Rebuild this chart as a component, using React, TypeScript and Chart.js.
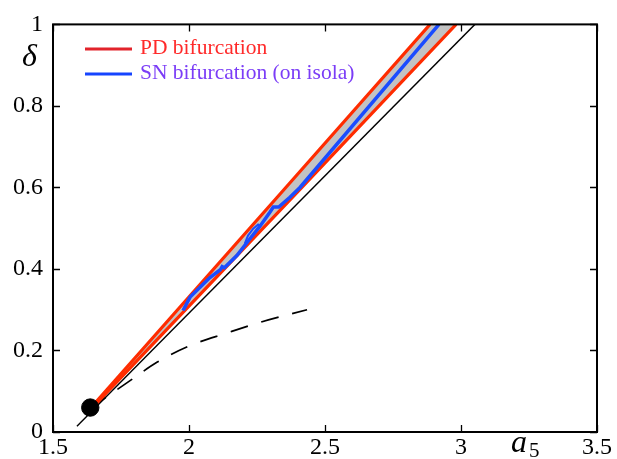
import React, { useEffect, useRef } from 'react';
import { Chart, registerables } from 'chart.js';

Chart.register(...registerables);

const xTicks = [1.5, 2, 2.5, 3, 3.5];
const xTickLabels = ['1.5', '2', '2.5', '3', '3.5'];
const yTicks = [0, 0.2, 0.4, 0.6, 0.8, 1];
const yTickLabels = ['0', '0.2', '0.4', '0.6', '0.8', '1'];

// PD bifurcation curves (two branches bounding the grey band)
const pdUpperX = [1.64, 2.356, 2.886];
const pdUpperY = [0.06, 0.6, 1.0];
const pdLowerX = [1.645, 2.415, 2.982];
const pdLowerY = [0.06, 0.6, 1.0];

// SN bifurcation (on isola)
const snX = [1.978, 2.004, 2.077, 2.115, 2.122, 2.13, 2.176, 2.224, 2.261, 2.298, 2.31, 2.33, 2.371, 2.408, 2.919];
const snY = [0.298, 0.331, 0.379, 0.398, 0.406, 0.403, 0.433, 0.474, 0.505, 0.540, 0.552, 0.552, 0.576, 0.600, 1.0];

// small second branch of the isola (loop)
const snLoopX = [2.205, 2.217, 2.236, 2.254, 2.262];
const snLoopY = [0.462, 0.482, 0.499, 0.509, 0.505];

// thin black straight line
const blackX = [1.588, 3.051];
const blackY = [0.014, 1.0];

// dashed curve
const dashX = [1.64, 1.79, 1.882, 2.004, 2.14, 2.261, 2.434];
const dashY = [0.06, 0.129, 0.171, 0.212, 0.243, 0.269, 0.3];

// black dot
const dotX = [1.637];
const dotY = [0.06];

const pts = (xs: number[], ys: number[]) => xs.map((x, i) => ({ x, y: ys[i] }));

const SERIF = '"Liberation Serif", "DejaVu Serif", serif';

const framePlugin = {
  id: 'frameTicks',
  afterDraw(chart: any) {
    const { ctx, chartArea } = chart;
    const xs = chart.scales.x;
    const ys = chart.scales.y;
    const { left, right, top, bottom } = chartArea;
    ctx.save();
    ctx.strokeStyle = '#000';
    ctx.lineWidth = 2;
    ctx.strokeRect(left, top, right - left, bottom - top);
    ctx.lineWidth = 1.3;
    const tl = 7;
    ctx.beginPath();
    xTicks.forEach((v) => {
      const px = Math.round(xs.getPixelForValue(v)) + 0.5;
      ctx.moveTo(px, bottom);
      ctx.lineTo(px, bottom - tl);
      ctx.moveTo(px, top);
      ctx.lineTo(px, top + tl);
    });
    yTicks.forEach((v) => {
      const py = Math.round(ys.getPixelForValue(v)) + 0.5;
      ctx.moveTo(left, py);
      ctx.lineTo(left + tl, py);
      ctx.moveTo(right, py);
      ctx.lineTo(right - tl, py);
    });
    ctx.stroke();

    // legend
    ctx.lineWidth = 3;
    ctx.strokeStyle = '#e2232b';
    ctx.beginPath();
    ctx.moveTo(85, 49);
    ctx.lineTo(132, 49);
    ctx.stroke();
    ctx.strokeStyle = '#1644ff';
    ctx.beginPath();
    ctx.moveTo(85, 74);
    ctx.lineTo(132, 74);
    ctx.stroke();
    ctx.font = `21.5px ${SERIF}`;
    ctx.textAlign = 'left';
    ctx.textBaseline = 'alphabetic';
    ctx.fillStyle = '#ff2a2a';
    ctx.fillText('PD bifurcation', 140, 54);
    ctx.fillStyle = '#7b3df7';
    ctx.fillText('SN bifurcation (on isola)', 140, 79);

    // axis titles
    ctx.fillStyle = '#000';
    ctx.font = `italic 32px ${SERIF}`;
    ctx.fillText('\u03b4', 22, 66);
    ctx.font = `italic 32px ${SERIF}`;
    ctx.fillText('a', 511, 452);
    ctx.font = `21px ${SERIF}`;
    ctx.fillText('5', 529, 457);
    ctx.restore();
  },
};

export default function App() {
  const ref = useRef<HTMLCanvasElement | null>(null);
  useEffect(() => {
    if (!ref.current) return;
    const band = [...pts(pdUpperX, pdUpperY), ...pts(pdLowerX, pdLowerY).reverse()];
    const chart = new Chart(ref.current, {
      type: 'scatter',
      data: {
        datasets: [
          {
            data: pts(dotX, dotY),
            pointRadius: 8.7,
            pointBackgroundColor: '#000',
            pointBorderColor: '#000',
            showLine: false,
            order: 0,
            clip: false as any,
          },
          {
            data: pts(snX, snY),
            showLine: true,
            borderColor: '#1a4cff',
            borderWidth: 3.5,
            pointRadius: 0,
            order: 1,
          },
          {
            data: pts(snLoopX, snLoopY),
            showLine: true,
            borderColor: '#1a4cff',
            borderWidth: 2,
            pointRadius: 0,
            order: 1,
          },
          {
            data: pts(pdUpperX, pdUpperY),
            showLine: true,
            borderColor: '#ff2c00',
            borderWidth: 3.2,
            pointRadius: 0,
            order: 2,
          },
          {
            data: pts(pdLowerX, pdLowerY),
            showLine: true,
            borderColor: '#ff2c00',
            borderWidth: 3.2,
            pointRadius: 0,
            order: 2,
          },
          {
            data: pts(blackX, blackY),
            showLine: true,
            borderColor: '#000',
            borderWidth: 1.4,
            pointRadius: 0,
            order: 3,
          },
          {
            data: pts(dashX, dashY),
            showLine: true,
            borderColor: '#000',
            borderWidth: 1.7,
            borderDash: [18, 14],
            cubicInterpolationMode: 'monotone',
            pointRadius: 0,
            order: 3,
          },
          {
            data: band,
            showLine: true,
            borderWidth: 0,
            borderColor: 'rgba(0,0,0,0)',
            backgroundColor: '#c3c3c3',
            fill: 'shape' as any,
            pointRadius: 0,
            order: 5,
          },
        ],
      },
      options: {
        responsive: false,
        animation: false,
        events: [],
        layout: { padding: { left: 0, right: 20, top: 12, bottom: 0 } },
        plugins: { legend: { display: false }, tooltip: { enabled: false } },
        scales: {
          x: {
            type: 'linear',
            min: 1.5,
            max: 3.5,
            grid: { display: false, drawTicks: false },
            border: { display: false },
            afterBuildTicks: (s: any) => {
              s.ticks = xTicks.map((v) => ({ value: v }));
            },
            afterFit: (s: any) => {
              s.height = 27;
            },
            ticks: {
              padding: 3,
              color: '#000',
              font: { family: SERIF, size: 24, lineHeight: 1.1 },
              maxRotation: 0,
              autoSkip: false,
              callback: (_v: any, i: number) => xTickLabels[i],
            },
          },
          y: {
            type: 'linear',
            min: 0,
            max: 1,
            grid: { display: false, drawTicks: false },
            border: { display: false },
            afterBuildTicks: (s: any) => {
              s.ticks = yTicks.map((v) => ({ value: v }));
            },
            afterFit: (s: any) => {
              s.width = 53;
            },
            ticks: {
              padding: 10,
              color: '#000',
              font: { family: SERIF, size: 24 },
              autoSkip: false,
              callback: (_v: any, i: number) => yTickLabels[i],
            },
          },
        },
      },
      plugins: [framePlugin],
    } as any);
    return () => chart.destroy();
  }, []);
  return (
    <div style={{ position: 'fixed', left: 0, top: 0, width: 617, height: 459, background: '#fff' }}>
      <canvas ref={ref} width={617} height={459} style={{ display: 'block' }} />
    </div>
  );
}
